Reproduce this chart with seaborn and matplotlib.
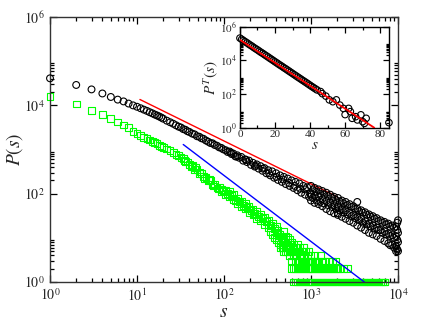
import seaborn as sns
import matplotlib.pyplot as plt
from matplotlib.ticker import FixedLocator, FixedFormatter

# black circles: P(s) of the full data
black_s = [1, 2, 3, 4, 5, 6, 7, 8, 9, 10, 11, 12, 13, 14, 15, 16, 17, 18, 19, 20,
           22, 24, 26, 28, 30, 32, 34, 36, 38, 40, 43, 46, 49, 52, 55, 58, 62, 66, 70, 74,
           78, 83, 88, 93, 98,
           105, 110, 116, 122, 128, 135, 142, 150, 158, 166, 175, 184, 194, 204, 215, 226,
           238, 250, 263, 277, 292, 307, 323, 340, 358, 377, 397, 418, 440, 463, 487, 513,
           540, 568, 598, 630, 663, 698, 735, 773, 814, 857, 902, 950,
           120, 140, 180, 230, 280, 330, 400, 480, 560, 650, 750, 850, 980,
           1000, 1000, 1000, 1050, 1050, 1100, 1100, 1100, 1160, 1160, 1220, 1220, 1220,
           1280, 1280, 1350, 1350, 1350, 1420, 1420, 1500, 1500, 1500, 1580, 1580,
           1660, 1660, 1660, 1750, 1750, 1840, 1840, 1840, 1940, 1940, 2040, 2040, 2040, 2040,
           2150, 2150, 2260, 2260, 2260, 2380, 2380, 2500, 2500, 2500, 2630, 2630,
           2770, 2770, 2770, 2920, 2920, 3070, 3070, 3070, 3230, 3230, 3400, 3400, 3400, 3400,
           3580, 3580, 3770, 3770, 3770, 3970, 3970, 4180, 4180, 4180, 4400, 4400,
           4630, 4630, 4630, 4870, 4870, 5130, 5130, 5130, 5400, 5400, 5680, 5680, 5680,
           5980, 5980, 6300, 6300, 6300, 6630, 6630, 6980, 6980, 6980, 7350, 7350,
           7730, 7730, 7730, 8140, 8140, 8140, 8570, 8570, 8570, 9020, 9020, 9020,
           9500, 9500, 9500, 9500, 9800, 9800, 9800, 9800, 10000, 10000, 10000, 10000]
black_p = [41000, 29000, 23000, 18600, 15500, 13500, 12300, 11000, 10000, 9300, 8600, 8000,
           7500, 7000, 6600, 6200, 5900, 5600, 5300, 5000,
           4500, 4150, 3850, 3550, 3300, 3150, 2900, 2800, 2600, 2500, 2300, 2200, 2000, 1950,
           1800, 1750, 1600, 1500, 1400, 1380, 1270, 1220, 1120, 1090, 1010,
           960, 880, 900, 790, 810, 700, 740, 650, 680, 560, 600, 520, 560, 450, 500, 410,
           460, 370, 420, 330, 380, 290, 340, 260, 320, 230, 290, 205, 260, 185, 240, 165,
           220, 150, 200, 135, 185, 120, 170, 105, 150, 95, 140, 85,
           850, 690, 580, 430, 370, 290, 240, 210, 175, 150, 130, 125, 100,
           150, 95, 70, 120, 80, 135, 90, 62, 110, 70, 125, 85, 58,
           100, 65, 115, 75, 52, 95, 60, 105, 68, 45, 88, 55,
           95, 62, 40, 80, 50, 85, 55, 36, 72, 46, 80, 50, 33, 36,
           66, 42, 70, 45, 30, 60, 38, 65, 42, 27, 55, 34,
           58, 37, 24, 50, 31, 52, 33, 22, 45, 28, 65, 46, 30, 19,
           40, 25, 42, 27, 17, 37, 22, 38, 24, 15, 33, 20,
           34, 21, 13, 30, 18, 31, 19, 12, 27, 16, 28, 17, 11,
           24, 15, 25, 15, 9.5, 22, 13, 23, 14, 8.5, 20, 12,
           21, 12.5, 7.5, 18, 11, 6.8, 19, 11.5, 7, 17, 10, 6,
           18, 11, 6.5, 5, 22, 15, 9, 5.5, 25, 13, 8, 5]

# green squares
green_s = [1, 2, 3, 4, 5, 6, 7, 8, 9, 10, 11, 12, 13, 14, 15, 16, 17, 18, 19, 20,
           22, 24, 26, 28, 30, 32, 34, 36, 38, 40, 43, 46, 49, 52, 55, 58, 62, 66, 70, 74,
           78, 83, 88, 93, 98, 35, 42, 47, 53, 60, 68, 76, 86, 95,
           105, 105, 110, 116, 116, 122, 128, 128, 135, 142, 142, 150, 158, 158, 166,
           175, 175, 184, 194, 194, 204, 215, 215, 226, 238, 238, 250, 263, 263, 277,
           292, 292, 307, 323, 323, 340, 340, 358, 358, 377, 377, 397, 397, 397,
           418, 418, 418, 440, 440, 440, 463, 463, 463, 487, 487, 487, 487,
           513, 513, 513, 513, 540, 540, 540, 540, 568, 568, 568, 568,
           598, 598, 598, 598, 630, 630, 630, 630, 630, 663, 663, 663, 663, 663,
           698, 698, 698, 698, 698, 735, 735, 735, 735, 735, 773, 773, 773, 773, 773,
           814, 814, 814, 814, 814, 857, 857, 857, 857, 902, 902, 902, 902,
           950, 950, 950, 950, 1000, 1000, 1000, 1000, 1050, 1050, 1050,
           1100, 1100, 1100, 1100, 1160, 1160, 1160, 1220, 1220, 1220, 1280, 1280, 1280,
           1350, 1350, 1350, 1420, 1420, 1420, 1500, 1500, 1580, 1580, 1580, 1660, 1660,
           1750, 1750, 1750, 1840, 1840, 1940, 1940, 1940, 2040, 2040, 2150, 2150,
           2260, 2380, 2380, 2500, 2630, 2630, 2770, 2920, 3070, 3230, 3400, 3580, 3770,
           3970, 4180, 4400, 4630, 4870, 5130, 5400, 5680, 5980, 6300, 6630, 6980, 7100]
green_p = [15600, 10700, 7800, 6300, 5000, 4200, 3600, 3100, 2600, 2300, 2100, 1900, 1800,
           1650, 1550, 1450, 1350, 1250, 1150, 1100,
           1030, 940, 870, 780, 720, 650, 620, 540, 520, 460, 430, 360, 350, 290, 285, 245,
           235, 195, 195, 160, 165, 135, 140, 112, 118, 570, 410, 390, 310, 220, 210, 150,
           128, 122,
           120, 95, 100, 85, 110, 90, 75, 95, 70, 80, 60, 65, 50, 68, 55,
           45, 60, 48, 38, 52, 42, 33, 45, 36, 28, 40, 31, 24, 34, 27,
           20, 29, 23, 17, 25, 19, 14, 21, 12, 16, 10, 13, 18, 9,
           11, 15, 8, 12, 7, 6, 10, 6, 7, 9, 14, 5, 6,
           8, 11, 6, 5, 7, 10, 5, 6, 9, 6, 5, 4,
           8, 5, 3, 2, 7, 5, 4, 2, 1, 6, 4, 3, 2, 1,
           7, 5, 3, 2, 1, 6, 4, 3, 2, 1, 5, 4, 3, 2, 1,
           6, 4, 3, 2, 1, 5, 3, 2, 1, 4, 3, 2, 1,
           5, 3, 2, 1, 4, 3, 2, 1, 3, 2, 1,
           4, 3, 2, 1, 3, 2, 1, 3, 2, 1, 4, 2, 1,
           3, 2, 1, 3, 2, 1, 2, 1, 3, 2, 1, 2, 1,
           3, 2, 1, 2, 1, 3, 2, 1, 2, 1, 2, 1,
           1, 2, 1, 1, 2, 1, 1, 1, 1, 1, 1, 1, 1,
           1, 1, 1, 1, 1, 1, 1, 1, 1, 1, 1, 1, 1]

# fitted power laws (end points)
red_s = [10.8, 2000]
red_p = [13600, 85]
blue_s = [34, 4100]
blue_p = [1300, 1]

# inset: P^T(s)
ins_s = [0, 1, 2, 3, 4, 5, 6, 7, 8, 9, 10, 11, 12, 13, 14, 15, 16, 17, 18, 19, 20, 21,
         22, 23, 24, 25, 26, 27, 28, 29, 30, 31, 32, 33, 34, 35, 36, 37, 38, 39, 40, 41,
         42, 43, 44, 46, 47, 49, 51, 53, 55, 57, 59, 60, 62, 63, 64, 66, 67, 69, 70, 71,
         72, 85]
ins_p = [210000, 178000, 151000, 129000, 110000, 93000, 79000, 68000, 57000, 49000, 42000,
         35500, 30000, 26000, 22000, 18700, 16000, 13500, 11500, 9800, 8300, 7100, 6000,
         5100, 4400, 3700, 3200, 2700, 2300, 1950, 1660, 1410, 1200, 1020, 870, 740, 630,
         540, 460, 390, 330, 280, 240, 205, 175, 140, 105, 75, 45, 35, 45, 22, 14, 6, 14,
         9, 3.6, 4.5, 2.9, 5.8, 2.3, 1.8, 3.6, 2]
ins_red_s = [0, 76.6]
ins_red_p = [166000, 1]

sns.set_style('ticks')
plt.rcParams['font.family'] = ['Liberation Serif', 'DejaVu Serif']
plt.rcParams['mathtext.fontset'] = 'stix'

fig = plt.figure(figsize=(4.3, 3.32), dpi=100)
ax = fig.add_axes([0.1163, 0.1506, 0.8093, 0.798])

sns.scatterplot(x=black_s, y=black_p, marker='o', s=24, facecolor='none',
                edgecolor='black', linewidth=0.8, clip_on=False, zorder=3, ax=ax)
sns.scatterplot(x=green_s, y=green_p, marker='s', s=24, facecolor='none',
                edgecolor='#00ff00', linewidth=0.8, clip_on=False, zorder=2, ax=ax)
sns.lineplot(x=red_s, y=red_p, color='red', linewidth=1.0, ax=ax)
sns.lineplot(x=blue_s, y=blue_p, color='blue', linewidth=1.0, ax=ax)

ax.set_xscale('log')
ax.set_yscale('log')
ax.set_xlim(1, 1e4)
ax.set_ylim(1, 1e6)
ax.xaxis.set_major_locator(FixedLocator([1, 10, 100, 1000, 10000]))
ax.xaxis.set_major_formatter(FixedFormatter([r'$10^{0}$', r'$10^{1}$', r'$10^{2}$',
                                             r'$10^{3}$', r'$10^{4}$']))
ax.xaxis.set_minor_locator(FixedLocator([k * 10 ** j for j in range(4) for k in range(2, 10)]))
ax.yaxis.set_major_locator(FixedLocator([1, 1e2, 1e4, 1e6]))
ax.yaxis.set_major_formatter(FixedFormatter([r'$10^{0}$', r'$10^{2}$', r'$10^{4}$',
                                             r'$10^{6}$']))
ax.yaxis.set_minor_locator(FixedLocator([k * 10 ** j for j in (0, 2, 4) for k in range(2, 10)]))
ax.tick_params(which='both', direction='in', top=True, right=True, labelsize=10,
               color='black', width=0.9)
ax.tick_params(which='major', length=5, pad=4)
ax.tick_params(which='minor', length=3)
for sp in ax.spines.values():
    sp.set_linewidth(1.0)
    sp.set_color('#333333')
ax.set_xlabel(r'$s$', fontsize=14, labelpad=0)
ax.set_ylabel(r'$P(s)$', fontsize=14, labelpad=-1)

# inset
axi = fig.add_axes([0.558, 0.6154, 0.3465, 0.3042])
axi.set_facecolor('white')
sns.scatterplot(x=ins_s, y=ins_p, marker='o', s=22, facecolor='none',
                edgecolor='black', linewidth=0.8, clip_on=False, zorder=3, ax=axi)
sns.lineplot(x=ins_red_s, y=ins_red_p, color='red', linewidth=1.3, zorder=4, ax=axi)
axi.set_yscale('log')
axi.set_xlim(0, 85)
axi.set_ylim(1, 1e6)
axi.xaxis.set_major_locator(FixedLocator([0, 20, 40, 60, 80]))
axi.xaxis.set_minor_locator(FixedLocator([10, 30, 50, 70]))
axi.yaxis.set_major_locator(FixedLocator([1, 1e2, 1e4, 1e6]))
axi.yaxis.set_major_formatter(FixedFormatter([r'$10^{0}$', r'$10^{2}$', r'$10^{4}$',
                                              r'$10^{6}$']))
axi.yaxis.set_minor_locator(FixedLocator([k * 10 ** j for j in (0, 2, 4) for k in range(2, 10)]))
axi.tick_params(which='both', direction='in', top=True, right=True, labelsize=8,
                color='black', width=0.9)
axi.tick_params(which='major', length=4, pad=2)
axi.tick_params(which='minor', length=2.5)
for sp in axi.spines.values():
    sp.set_linewidth(1.0)
    sp.set_color('black')
axi.set_xlabel(r'$s$', fontsize=11, labelpad=0)
axi.set_ylabel(r'$P^{T}(s)$', fontsize=11, labelpad=0)

fig.savefig('out.png', dpi=100)
